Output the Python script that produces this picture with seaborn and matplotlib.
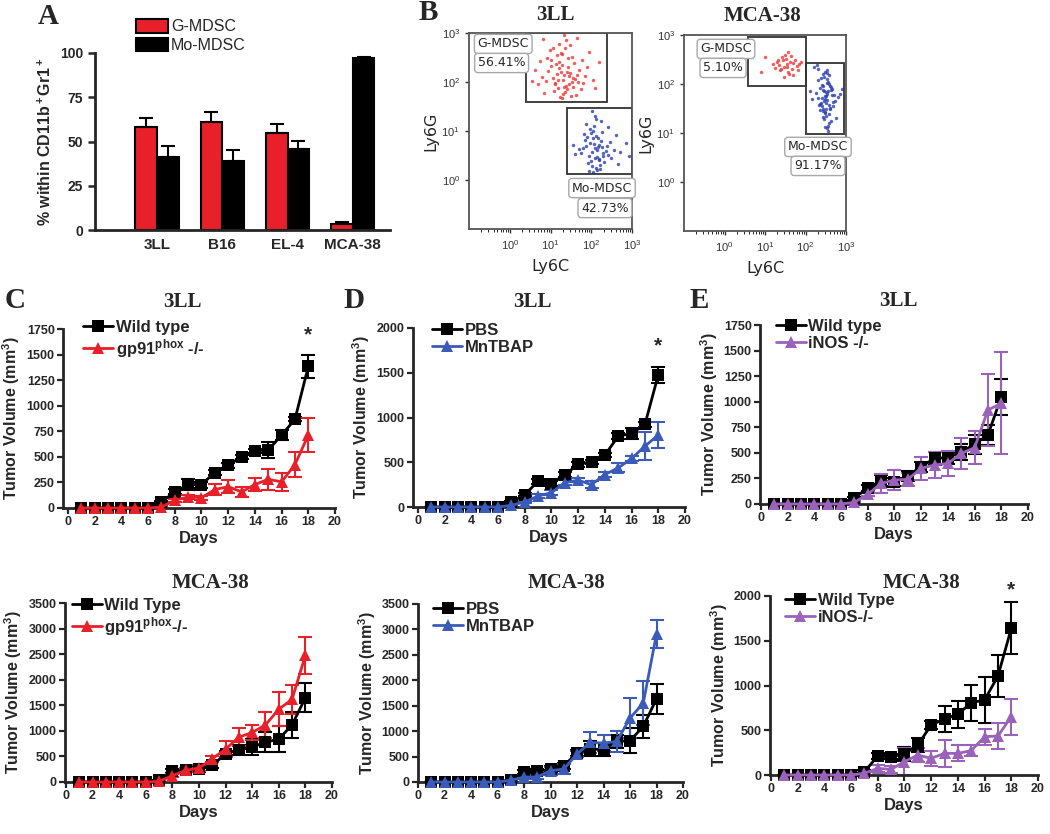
import numpy as np
import pandas as pd
import seaborn as sns
import matplotlib.pyplot as plt
from matplotlib.patches import Rectangle
from matplotlib.lines import Line2D
from matplotlib.ticker import LogLocator, NullLocator


#--------------------------------   Data   --------------------------------

# panel A : % of CD11b+Gr1+ cells
cell_lines = ['3LL', 'B16', 'EL-4', 'MCA-38']
g_mdsc = [58, 61, 55, 3.5]
g_mdsc_err = [5.5, 5.5, 5, 1]
mo_mdsc = [41, 39, 45.5, 97]
mo_mdsc_err = [6.5, 6, 5, 1]
pct_ticks = [0, 25, 50, 75, 100]

# panel B : flow cytometry dots (log10 units)
red_3ll_x = [1.30, 1.12, 1.45, 1.25, 1.38, 1.05, 1.52, 1.20, 1.33, 1.41,
             0.95, 1.60, 1.18, 1.28, 1.48, 1.36, 0.88, 1.70, 1.22, 1.10,
             1.56, 1.42, 1.02, 1.31, 1.64, 0.78, 1.80, 1.15, 1.26, 1.50,
             0.70, 1.90, 1.35, 1.08, 1.44, 1.58, 0.62, 2.05, 1.24, 1.39,
             0.98, 1.75, 1.16, 1.53, 0.85, 1.95, 1.29, 1.47, 0.55, 2.20,
             1.32, 1.00, 1.68, 1.21, 1.85, 0.92, 1.62, 1.40, 1.13, 1.27,
             0.75, 2.10, 1.34, 1.55, 1.06, 1.78, 0.82, 1.66, 1.19, 1.46]
red_3ll_y = [2.05, 1.98, 2.12, 2.20, 1.92, 2.08, 2.00, 2.28, 2.15, 1.85,
             2.22, 2.06, 1.88, 2.35, 2.18, 1.80, 2.02, 2.25, 2.40, 1.95,
             1.90, 2.30, 2.45, 1.76, 2.14, 2.10, 1.98, 2.55, 2.60, 1.72,
             1.95, 2.30, 2.70, 1.82, 2.48, 2.38, 2.25, 2.05, 1.70, 2.85,
             2.65, 1.85, 2.16, 2.52, 1.78, 2.62, 1.68, 2.75, 2.02, 2.40,
             2.95, 2.32, 2.00, 2.78, 2.12, 2.50, 1.74, 2.20, 2.36, 2.58,
             2.42, 1.88, 1.90, 2.08, 2.70, 2.45, 2.88, 2.90, 2.04, 1.96]
blue_3ll_x = [2.10, 2.02, 2.18, 1.95, 2.25, 2.08, 2.14, 1.88, 2.30, 2.05,
              2.20, 1.98, 2.12, 2.35, 1.92, 2.16, 2.04, 2.40, 1.84, 2.22,
              2.00, 2.28, 2.11, 1.80, 2.45, 2.07, 2.19, 1.90, 2.55, 2.13,
              1.96, 2.32, 2.06, 1.76, 2.60, 2.24, 2.01, 2.38, 1.86, 2.15,
              2.70, 1.94, 2.26, 2.09, 1.70, 2.48, 2.17, 2.03, 2.85, 1.60,
              2.21, 2.12, 1.99, 2.42, 1.82, 2.65, 2.27, 2.05, 2.92, 1.55]
blue_3ll_y = [0.65, 0.58, 0.72, 0.50, 0.80, 0.45, 0.62, 0.70, 0.55, 0.85,
              0.40, 0.75, 0.90, 0.60, 0.35, 0.68, 1.00, 0.52, 0.82, 0.30,
              0.95, 0.48, 0.25, 0.66, 0.78, 1.10, 0.42, 0.88, 0.62, 0.20,
              1.05, 0.36, 0.74, 0.56, 0.92, 1.20, 0.28, 0.70, 1.15, 0.46,
              0.58, 0.18, 0.98, 1.30, 0.64, 0.44, 0.86, 1.40, 0.76, 0.54,
              0.22, 1.25, 0.38, 1.08, 0.94, 0.32, 0.68, 0.16, 0.50, 0.72]
red_mca_x = [1.55, 1.48, 1.62, 1.40, 1.70, 1.52, 1.35, 1.78, 1.58, 1.45,
             1.66, 1.30, 1.85, 1.50, 1.60, 1.42, 1.74, 1.25, 1.90, 1.56,
             1.38, 1.68, 1.20, 1.64, 0.90, 1.00, 1.47, 1.82, 1.54, 1.33]
red_mca_y = [2.40, 2.35, 2.45, 2.30, 2.42, 2.52, 2.38, 2.36, 2.25, 2.48,
             2.30, 2.44, 2.40, 2.60, 2.20, 2.55, 2.50, 2.33, 2.45, 2.65,
             2.28, 2.18, 2.40, 2.58, 2.25, 2.55, 2.15, 2.28, 2.34, 2.50]
blue_mca_x = [2.50, 2.45, 2.55, 2.40, 2.60, 2.48, 2.52, 2.35, 2.65, 2.44,
              2.56, 2.42, 2.58, 2.30, 2.70, 2.47, 2.53, 2.38, 2.62, 2.50,
              2.46, 2.54, 2.25, 2.75, 2.43, 2.57, 2.36, 2.64, 2.49, 2.51,
              2.41, 2.59, 2.32, 2.68, 2.45, 2.55, 2.20, 2.80, 2.48, 2.52,
              2.39, 2.61, 2.44, 2.56, 2.28, 2.72, 2.50, 2.47, 2.53, 2.34,
              2.66, 2.42, 2.58, 2.15, 2.85, 2.46, 2.54, 2.37, 2.63, 2.50,
              2.43, 2.57, 2.31, 2.69, 2.48, 2.52, 2.40, 2.60, 2.12, 2.90]
blue_mca_y = [1.75, 1.65, 1.85, 1.55, 1.95, 1.70, 1.80, 1.60, 1.90, 1.45,
              2.05, 1.50, 2.00, 1.72, 1.78, 1.40, 2.10, 1.62, 1.88, 1.35,
              2.15, 1.68, 1.82, 1.30, 2.20, 1.58, 1.92, 1.25, 2.25, 1.48,
              1.98, 1.20, 2.30, 1.64, 1.86, 1.15, 2.35, 1.74, 1.76, 1.10,
              2.12, 1.52, 1.96, 1.05, 2.38, 1.66, 1.84, 1.42, 2.02, 1.58,
              1.78, 1.32, 2.18, 1.70, 1.80, 1.28, 2.22, 1.46, 1.94, 1.62,
              1.88, 1.38, 2.08, 1.56, 1.12, 2.28, 1.72, 1.50, 1.85, 1.90]
# gates [x0, x1, y0, y1] in log10 units
gates_3ll = [[0.41, 2.39, 1.60, 3.00], [1.41, 3.00, 0.12, 1.47]]
gates_mca = [[0.59, 2.02, 1.96, 2.96], [2.02, 2.95, 0.98, 2.43]]
pct_3ll = ['56.41%', '42.73%']
pct_mca = ['5.10%', '91.17%']

# panels C-E : tumour volume (mm3) per day
days = list(range(1, 19))

c_wt = [0, 0, 0, 0, 0, 0, 59, 157, 229, 229, 347, 419, 500, 559, 566, 713, 867, 1384]
c_wt_err = [0, 0, 0, 0, 0, 0, 10, 25, 50, 30, 25, 25, 20, 20, 80, 50, 20, 110]
c_gp = [0, 0, 0, 0, 0, 0, 10, 75, 108, 101, 180, 209, 157, 229, 281, 255, 425, 713]
c_gp_err = [0, 0, 0, 0, 0, 0, 5, 15, 20, 20, 55, 65, 50, 60, 105, 85, 120, 170]

d_pbs = [0, 0, 0, 0, 0, 0, 56, 138, 288, 262, 363, 475, 505, 579, 792, 822, 923, 1477]
d_pbs_err = [0, 0, 0, 0, 0, 0, 10, 20, 30, 30, 25, 25, 20, 20, 30, 60, 30, 90]
d_mn = [0, 0, 0, 0, 0, 0, 19, 56, 123, 160, 273, 299, 250, 363, 437, 542, 680, 804]
d_mn_err = [0, 0, 0, 0, 0, 0, 5, 15, 20, 25, 30, 25, 40, 30, 50, 30, 160, 150]

e_wt = [0, 0, 0, 0, 0, 0, 55, 160, 225, 218, 277, 365, 446, 453, 511, 583, 674, 1049]
e_wt_err = [0, 0, 0, 0, 0, 0, 15, 30, 60, 40, 50, 50, 60, 60, 80, 90, 100, 175]
e_inos = [0, 0, 0, 0, 0, 0, 16, 94, 202, 235, 241, 349, 381, 397, 495, 550, 919, 984]
e_inos_err = [0, 0, 0, 0, 0, 0, 10, 20, 90, 100, 65, 110, 130, 120, 150, 160, 355, 500]

c2_wt = [0, 0, 0, 0, 0, 0, 32, 208, 240, 253, 325, 552, 630, 682, 779, 838, 1117, 1649]
c2_wt_err = [0, 0, 0, 0, 0, 0, 15, 40, 40, 50, 60, 60, 100, 150, 200, 260, 250, 290]
c2_gp = [0, 0, 0, 0, 0, 0, 13, 123, 227, 273, 455, 643, 877, 968, 1117, 1422, 1617, 2481]
c2_gp_err = [0, 0, 0, 0, 0, 0, 10, 30, 40, 50, 60, 150, 170, 150, 260, 330, 280, 360]

d2_pbs = [0, 0, 0, 0, 0, 0, 33, 196, 209, 255, 320, 569, 654, 634, 798, 811, 1092, 1635]
d2_pbs_err = [0, 0, 0, 0, 0, 0, 15, 40, 40, 50, 60, 60, 150, 130, 130, 250, 230, 290]
d2_mn = [0, 0, 0, 0, 0, 0, 33, 98, 98, 222, 255, 549, 778, 765, 798, 1256, 1550, 2910]
d2_mn_err = [0, 0, 0, 0, 0, 0, 15, 30, 30, 80, 100, 60, 200, 150, 200, 400, 430, 280]

e2_wt = [0, 0, 0, 0, 0, 0, 37, 212, 205, 235, 335, 559, 626, 678, 808, 838, 1106, 1639]
e2_wt_err = [0, 0, 0, 0, 0, 0, 15, 30, 30, 80, 80, 40, 150, 150, 200, 260, 240, 290]
e2_inos = [0, 0, 0, 0, 0, 0, 19, 74, 63, 149, 223, 186, 242, 242, 272, 428, 436, 652]
e2_inos_err = [0, 0, 0, 0, 0, 0, 10, 40, 40, 150, 80, 80, 150, 90, 60, 90, 150, 200]


#--------------------------------   Style   --------------------------------

RED = '#e8202a'
BLUE = '#3a5cb8'
PURPLE = '#9a62b8'
W, H = 1050, 834

sns.set_style("ticks")
plt.rcParams['font.family'] = ['Liberation Sans', 'DejaVu Sans']
plt.rcParams['mathtext.fontset'] = 'custom'
plt.rcParams['mathtext.rm'] = 'Liberation Sans'
plt.rcParams['mathtext.bf'] = 'Liberation Sans:bold'
plt.rcParams['mathtext.it'] = 'Liberation Sans:italic'

fig = plt.figure(figsize=(W / 100, H / 100), dpi=100)


def px_axes(l, t, r, b):
    return fig.add_axes([l / W, 1 - b / H, (r - l) / W, (b - t) / H])


def serif_text(x, y, s, size):
    fig.text(x / W, 1 - y / H, s, ha='center', va='center', family='Liberation Serif',
             weight='bold', size=size)


def letter(x, y, s):
    fig.text(x / W, 1 - y / H, s, ha='left', va='center', family='Liberation Serif',
             weight='bold', size=21)


def bold_ticks(ax):
    for lbl in ax.get_xticklabels() + ax.get_yticklabels():
        lbl.set_fontweight('bold')


##################### A : bars ######################
ax = px_axes(95, 53, 390, 230)
df_a = pd.DataFrame({'line': cell_lines * 2,
                     'subset': ['G-MDSC'] * 4 + ['Mo-MDSC'] * 4,
                     'pct': g_mdsc + mo_mdsc})
sns.barplot(data=df_a, x='line', y='pct', hue='subset', palette=[RED, 'black'], saturation=1,
            width=0.66, edgecolor='black', linewidth=1.5, errorbar=None, legend=False, ax=ax)
for cont, errs in zip(ax.containers, [g_mdsc_err, mo_mdsc_err]):
    for bar, e in zip(cont, errs):
        ax.errorbar(bar.get_x() + bar.get_width() / 2, bar.get_height(), yerr=[[0], [e]],
                    color='black', capsize=5, capthick=1.5, elinewidth=1.5)
ax.set_xlim(-0.95, 3.57)
ax.set_ylim(0, 100)
ax.set_yticks(pct_ticks, labels=[str(v) for v in pct_ticks], fontweight='bold')
sns.despine(ax=ax)
for s in ['left', 'bottom']:
    ax.spines[s].set_linewidth(2)
ax.tick_params(axis='x', length=0, labelsize=11, pad=6)
ax.tick_params(axis='y', length=5, width=1.8, labelsize=10)
bold_ticks(ax)
ax.set_xlabel('')
ax.set_ylabel('% within CD11b$^{\\bf +}$Gr1$^{\\bf +}$', fontsize=11.5, fontweight='bold',
              labelpad=4)
ax.legend(ax.containers, ['G-MDSC', 'Mo-MDSC'], loc='upper left',
          bbox_to_anchor=(136 / W, 1 - 19 / H), bbox_transform=fig.transFigure,
          frameon=False, fontsize=11.5, handlelength=2.0, handleheight=0.95,
          handletextpad=0.2, labelspacing=0.2, borderpad=0, borderaxespad=0)
letter(38, 17, 'A')


##################### B : flow plots ######################
def flow_panel(box, rx, ry, bx, by, gates, pcts, boxes):
    ax = px_axes(*box)
    sns.scatterplot(x=10 ** np.array(rx), y=10 ** np.array(ry), color='#f03535', s=6,
                    linewidth=0, alpha=0.8, ax=ax)
    sns.scatterplot(x=10 ** np.array(bx), y=10 ** np.array(by), color='#2a3fb0', s=6,
                    linewidth=0, alpha=0.8, ax=ax)
    ax.set_xscale('log')
    ax.set_yscale('log')
    ax.set_xlim(0.1, 1000)
    ax.set_ylim(0.1, 1000)
    for x0, x1, y0, y1 in gates:
        ax.add_patch(Rectangle((10 ** x0, 10 ** y0), 10 ** x1 - 10 ** x0, 10 ** y1 - 10 ** y0,
                               fill=False, ec='#333333', lw=1.3))
    ax.set_xticks([1, 10, 100, 1000])
    ax.set_yticks([1, 10, 100, 1000])
    ax.xaxis.set_minor_locator(LogLocator(subs=np.arange(2, 10)))
    ax.yaxis.set_minor_locator(NullLocator())
    ax.tick_params(labelsize=8, length=3, width=1, colors='#333333')
    ax.tick_params(which='minor', length=2, width=0.7)
    for s in ax.spines.values():
        s.set_color('#555555')
        s.set_linewidth(1.3)
    ax.set_xlabel('Ly6C', fontsize=11.5, labelpad=5, family='DejaVu Sans')
    ax.set_ylabel('Ly6G', fontsize=11.5, labelpad=2, family='DejaVu Sans')
    names = ['G-MDSC', 'Mo-MDSC']
    for (gx, gy, px, py), name, pct in zip(boxes, names, pcts):
        for txt, x, y in [(name, gx, gy), (pct, px, py)]:
            ax.text(x, y, txt, transform=ax.transAxes, ha='center', va='center',
                    fontsize=9, family='DejaVu Sans',
                    bbox=dict(boxstyle='round,pad=0.25', fc='white', ec='#a8a8a8', lw=1))
    return ax


flow_panel((469, 33, 632, 229), red_3ll_x, red_3ll_y, blue_3ll_x, blue_3ll_y,
           gates_3ll, pct_3ll, [(0.21, 0.944, 0.20, 0.847), (0.816, 0.209, 0.834, 0.107)])
flow_panel((684, 35, 846, 231), red_mca_x, red_mca_y, blue_mca_x, blue_mca_y,
           gates_mca, pct_mca, [(0.259, 0.929, 0.241, 0.832), (0.827, 0.429, 0.827, 0.332)])
serif_text(555, 15, '3LL', 15)
serif_text(763, 16, 'MCA-38', 15)
letter(419, 13, 'B')


##################### C-E : tumour growth ######################
def growth_panel(box, xmin, ymax, ystep, first, second, names, color, leg_xy, star=None):
    ax = px_axes(*box)
    df = pd.DataFrame({'day': days * 2, 'vol': first[0] + second[0],
                       'group': [names[0]] * 18 + [names[1]] * 18})
    for (vals, errs), c in zip([first, second], ['black', color]):
        ax.errorbar(days, vals, yerr=errs, fmt='none', ecolor=c, elinewidth=1.5,
                    capsize=5, capthick=1.5, clip_on=False, zorder=2)
    sns.lineplot(data=df, x='day', y='vol', hue='group', style='group', markers=['s', '^'],
                 dashes=False, palette=['black', color], markersize=8.5, linewidth=2,
                 markeredgewidth=0, errorbar=None, legend=False, ax=ax,
                 clip_on=False, zorder=3)
    ax.set_xlim(xmin, 20)
    ax.set_ylim(0, ymax)
    ax.set_xticks(range(0, 21, 2))
    ax.set_yticks(np.arange(0, ymax + 1, ystep))
    sns.despine(ax=ax)
    for s in ['left', 'bottom']:
        ax.spines[s].set_linewidth(2)
    ax.tick_params(length=4, width=1.6, labelsize=9, pad=2)
    bold_ticks(ax)
    ax.set_xlabel('Days', fontsize=12, fontweight='bold', labelpad=2)
    ax.set_ylabel('Tumor Volume (mm$^{\\bf 3}$)', fontsize=11.5, fontweight='bold', labelpad=3)
    handles = [Line2D([], [], color=c, marker=m, lw=2, markersize=8.5, markeredgewidth=0)
               for c, m in zip(['black', color], ['s', '^'])]
    ax.legend(handles, names, loc='upper left',
              bbox_to_anchor=(leg_xy[0] / W, 1 - leg_xy[1] / H), bbox_transform=fig.transFigure,
              frameon=False, prop=dict(weight='bold', size=12), handlelength=1.8,
              handletextpad=0.15, labelspacing=0.1, borderpad=0, borderaxespad=0)
    if star is not None:
        ax.text(18, star, '*', ha='center', va='center', fontsize=15, fontweight='bold',
                clip_on=False)
    return ax


gp_label = 'gp91$^{\\bf phox}$ -/-'
gp_label2 = 'gp91$^{\\bf phox}$-/-'

growth_panel((63, 329, 335, 508), -0.37, 1750, 250, (c_wt, c_wt_err), (c_gp, c_gp_err),
             ['Wild type', gp_label], RED, (83, 320), star=1690)
growth_panel((413, 328, 685, 507), -0.37, 2000, 500, (d_pbs, d_pbs_err), (d_mn, d_mn_err),
             ['PBS', 'MnTBAP'], BLUE, (432, 323), star=1800)
growth_panel((760, 325, 1028, 504), -0.07, 1750, 250, (e_wt, e_wt_err), (e_inos, e_inos_err),
             ['Wild type', 'iNOS -/-'], PURPLE, (776, 319))
growth_panel((65, 603, 332, 782), -0.07, 3500, 500, (c2_wt, c2_wt_err), (c2_gp, c2_gp_err),
             ['Wild Type', gp_label2], RED, (72, 598))
growth_panel((418, 604, 683, 782), 0, 3500, 500, (d2_pbs, d2_pbs_err), (d2_mn, d2_mn_err),
             ['PBS', 'MnTBAP'], BLUE, (433, 602))
growth_panel((770, 596, 1038, 775), -0.07, 2000, 500, (e2_wt, e2_wt_err), (e2_inos, e2_inos_err),
             ['Wild Type', 'iNOS-/-'], PURPLE, (785, 593), star=2070)

serif_text(182, 302, '3LL', 15)
serif_text(532, 302, '3LL', 15)
serif_text(898, 301, '3LL', 15)
serif_text(210, 583, 'MCA-38', 15)
serif_text(567, 583, 'MCA-38', 15)
serif_text(922, 583, 'MCA-38', 15)
letter(5, 300, 'C')
letter(343, 300, 'D')
letter(690, 300, 'E')

plt.savefig('out.png', dpi=100)
